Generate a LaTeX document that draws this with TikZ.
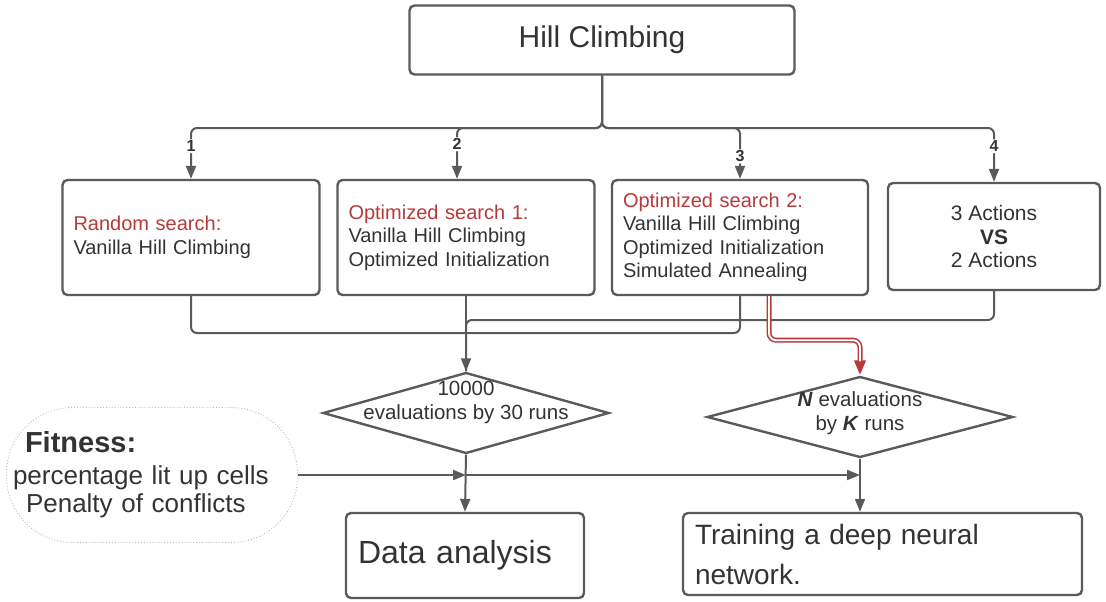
\documentclass[tikz,border=0pt]{standalone}
\usepackage{fontspec}
\setmainfont{Liberation Sans}
\usetikzlibrary{arrows.meta,shapes.geometric}
\definecolor{ink}{HTML}{333333}
\definecolor{linegray}{HTML}{5A5A5A}
\definecolor{alert}{HTML}{B8393A}
\newcommand{\fs}[2]{\fontsize{#1}{#2}\selectfont}
\begin{document}
\begin{tikzpicture}[x=1pt,y=-1pt,
    box/.style={draw=linegray,line width=2.4pt,rounded corners=5pt,text=ink,inner ysep=0pt},
    sbox/.style={box,minimum height=115pt,inner xsep=11pt,text width=#1,align=left,font=\fs{20}{23.5}},
    dec/.style={draw=linegray,line width=2.4pt,shape=diamond,inner sep=0pt,minimum height=81pt},
    dtext/.style={text=ink,align=center,font=\fs{20.5}{24}},
    conn/.style={draw=linegray,line width=2pt,rounded corners=6pt},
    flow/.style={conn,-{Triangle[length=13pt,width=10pt]}},
    redflow/.style={draw=alert,line width=5pt,rounded corners=7pt,-{Triangle[length=15pt,width=11pt]}},
    redcore/.style={draw=white,line width=1.9pt,rounded corners=7pt,shorten >=14pt},
    num/.style={fill=white,text=ink,font=\bfseries\fs{16}{16},inner sep=1.5pt}]
  \useasboundingbox (0,0) rectangle (1106,602);
  \node[box,minimum width=385pt,minimum height=69pt,font=\fs{30}{30}] (hc) at (602,40) {Hill Climbing};
  \node[sbox=235pt] (rs) at (191,237.5) {\textcolor{alert}{Random search:}\\Vanilla Hill Climbing};
  \node[sbox=235pt] (os1) at (466,237.5) {\textcolor{alert}{Optimized search 1:}\\Vanilla Hill Climbing\\Optimized Initialization};
  \node[sbox=234pt] (os2) at (740,237.5) {\textcolor{alert}{Optimized search 2:}\\Vanilla Hill Climbing\\Optimized Initialization\\Simulated Annealing};
  \node[box,minimum width=212pt,minimum height=107pt,align=center,font=\fs{21}{23.5}] (act) at (994,236.5) {3 Actions\\\textbf{VS}\\2 Actions};
  \node[dec,minimum width=286pt] (d1) at (466,413) {};
  \node[dtext] (d1t) at ([yshift=11pt]d1.center) {10000\\evaluations by 30 runs};
  \node[dec,minimum width=306pt] (d2) at (860,417) {};
  \node[dtext] (d2t) at ([yshift=4pt]d2.center) {\textbf{\textit{N}} evaluations\\by \textbf{\textit{K}} runs};
  \node[draw=gray!55,dotted,line width=0.9pt,rounded corners=66pt,minimum width=291pt,minimum height=135pt,
        inner sep=0pt,text width=278pt,align=left,text=ink,font=\fs{26}{28}] (fit) at (152,475)
        {\hspace*{12pt}{\bfseries\fs{29}{29}Fitness:}\\[4pt]percentage lit up cells\\\hspace*{13pt}Penalty of conflicts};
  \node[box,minimum width=238pt,minimum height=85pt,inner xsep=12pt,text width=214pt,align=left,font=\fs{32}{32}] (da) at (465,555.5) {Data analysis};
  \node[box,minimum width=399pt,minimum height=82pt,inner xsep=12pt,text width=375pt,align=left,font=\fs{28}{40}] (tr) at (882.5,554) {Training a deep neural\\network.};
  \coordinate (split) at (602,128);
  \coordinate (m1) at (466,333);
  \coordinate (m2) at (466,320);
  \coordinate (f1) at (fit.east -| d1.south);
  \coordinate (f2) at (fit.east -| d2.south);
  \begin{scope}
    \draw[flow] (hc.south) -- (split) -| node[num,pos=0.68]{1} (rs.north);
    \draw[flow] (hc.south) -- (split) -| node[num,pos=0.66]{2} ([xshift=-9pt]os1.north);
    \draw[flow] (hc.south) -- (split) -| node[num,pos=0.78]{3} (os2.north);
    \draw[flow] (hc.south) -- (split) -| node[num,pos=0.67]{4} (act.north);
    \draw[conn] (rs.south) |- (m1);
    \draw[conn] (os2.south) |- (m1);
    \draw[conn] (act.south) |- (m2) -- (d1.north);
    \draw[flow] (os1.south) -- (d1.north);
    \draw[redflow] ([xshift=29pt]os2.south) -- ++(0,44) -| (d2.north);
    \draw[redcore] ([xshift=29pt]os2.south) -- ++(0,44) -| (d2.north);
    \draw[flow] (fit.east) -- (f1);
    \draw[flow] (f1) -- (f2);
    \draw[flow] (d1.south) -- (da.north);
    \draw[flow] (d2.south) -- (d2.south |- tr.north);
  \end{scope}
\end{tikzpicture}
\end{document}
